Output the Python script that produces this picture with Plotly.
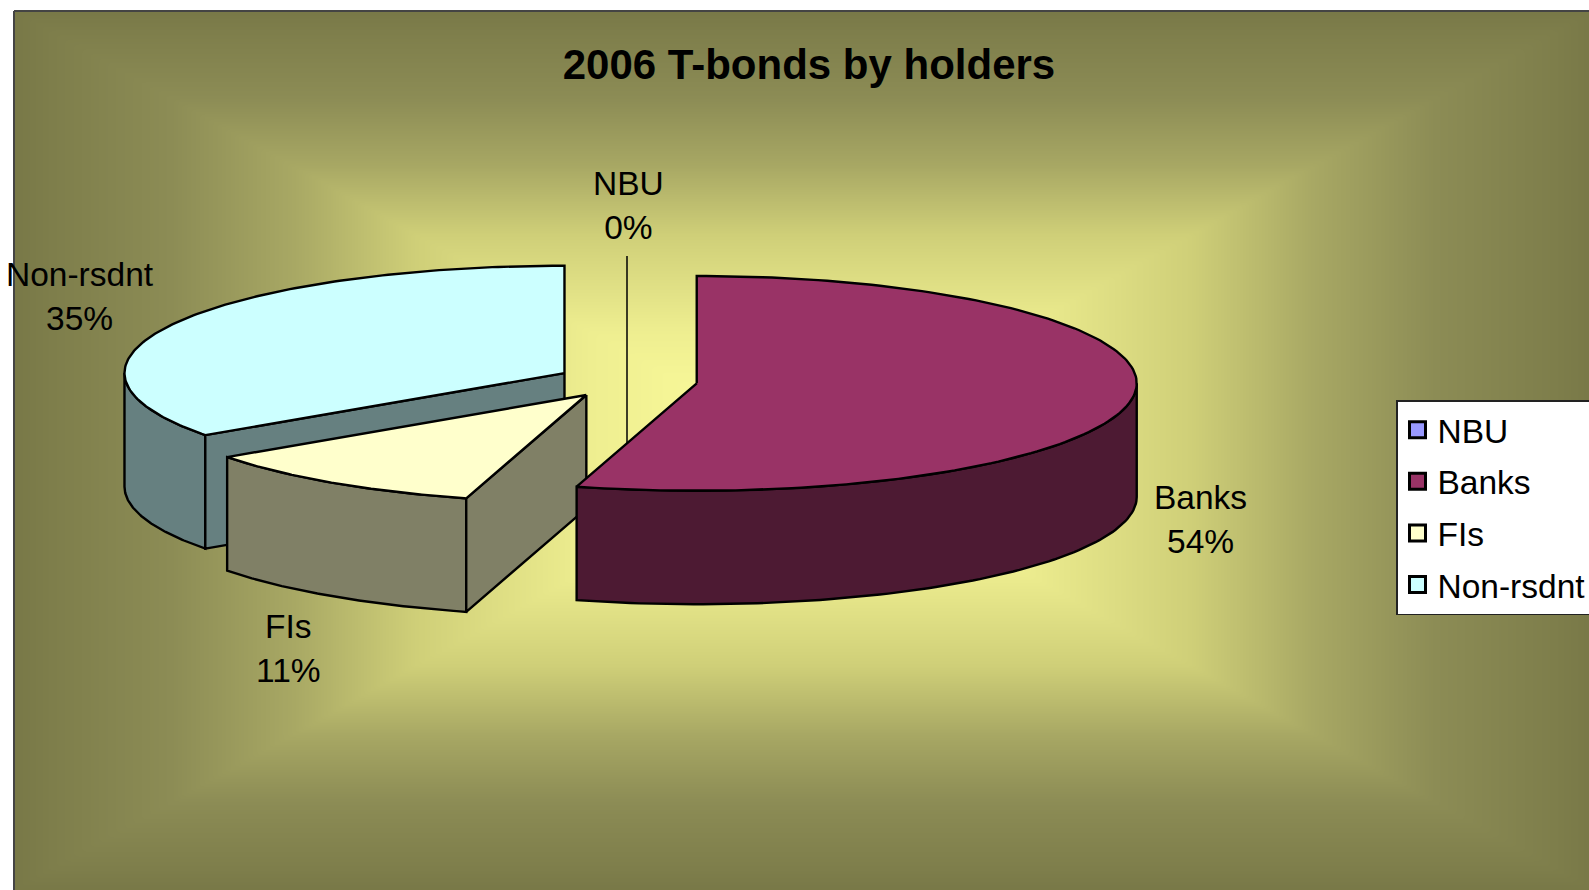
import numpy as np
import plotly.graph_objects as go

# --- chart data ---
categories = ["NBU", "Banks", "FIs", "Non-rsdnt"]
shares = [0, 54.4, 10.8, 34.8]
top_colors = ["#9999FF", "#993366", "#FFFFCC", "#CCFFFF"]
side_colors = ["#4D4D80", "#4D1A33", "#808066", "#668080"]
label_positions = [(628, 205), (1200, 519), (288, 648), (80, 296)]
title_text = "2006 T-bonds by holders"

# --- pie projection ---
CX, CY = 627, 381
RX, RY = 440, 107.4
DEPTH = 113.5
EXPLODE = 0.16
W, H = 1589, 890
FONT = "Liberation Sans, Arial, sans-serif"


def point(theta, ox, oy, dz=0.0):
    return ox + RX * np.sin(theta), oy - RY * np.cos(theta) + dz


def poly(name, xs, ys, color):
    return go.Scatter(
        x=list(xs) + [xs[0]], y=list(ys) + [ys[0]], mode="lines", fill="toself",
        fillcolor=color, line=dict(color="black", width=2.4), name=name,
        showlegend=False, hoverinfo="name",
    )


fractions = np.array(shares, dtype=float) / sum(shares)
ends = np.cumsum(fractions) * 2 * np.pi
starts = ends - fractions * 2 * np.pi

slices = {}
for i, name in enumerate(categories):
    a0, a1 = starts[i], ends[i]
    mid = (a0 + a1) / 2
    ox, oy = point(mid, CX, CY)
    ox = CX + (ox - CX) * EXPLODE
    oy = CY + (oy - CY) * EXPLODE
    parts = []
    lo, hi = max(a0, np.pi / 2), min(a1, 3 * np.pi / 2)
    if hi > lo:
        t = np.linspace(lo, hi, 90)
        x1, y1 = point(t, ox, oy)
        x2, y2 = point(t[::-1], ox, oy, DEPTH)
        parts.append(poly(name, np.r_[x1, x2], np.r_[y1, y2], side_colors[i]))
    if a1 > a0 and a0 > np.pi:
        ex, ey = point(a0, ox, oy)
        parts.append(poly(name, [ox, ex, ex, ox], [oy, ey, ey + DEPTH, oy + DEPTH], side_colors[i]))
    if a1 > a0:
        t = np.linspace(a0, a1, 160)
        x1, y1 = point(t, ox, oy)
        parts.append(poly(name, np.r_[ox, x1], np.r_[oy, y1], top_colors[i]))
    slices[name] = parts

# --- gradient background ---
ex_edges = np.linspace(14, W, 317)
ey_edges = np.linspace(11, H, 179)
gx = (ex_edges[:-1] + ex_edges[1:]) / 2
gy = (ey_edges[:-1] + ey_edges[1:]) / 2
XX, YY = np.meshgrid(gx, gy)
Z = np.maximum(np.abs(XX - 803) / 790, np.abs(YY - 450) / 440)
scale = [
    [0.0, "#fbfb9e"], [0.17, "#f5f596"], [0.27, "#eeee90"], [0.49, "#cfcf78"],
    [0.645, "#a8a864"], [0.8, "#8c8c55"], [0.95, "#7e7e4b"], [1.0, "#787847"],
]

fig = go.Figure()
fig.add_trace(go.Heatmap(x=gx, y=gy, z=Z, zmin=0, zmax=1, colorscale=scale, showscale=False,
                         zsmooth="best", hoverinfo="skip"))
for tr in slices["Non-rsdnt"]:
    fig.add_trace(tr)
fig.add_trace(go.Scatter(x=[CX, CX], y=[256, 444], mode="lines", line=dict(color="black", width=1.5),
                         showlegend=False, hoverinfo="skip"))
for tr in slices["FIs"] + slices["Banks"]:
    fig.add_trace(tr)

for i, name in enumerate(categories):
    fig.add_trace(go.Scatter(
        x=[None], y=[None], mode="markers", name=name, legendgroup=name,
        marker=dict(symbol="square", size=16, color=top_colors[i], line=dict(color="black", width=3)),
    ))
    lx, ly = label_positions[i]
    fig.add_annotation(x=lx, y=ly, text=f"{name}<br>{round(shares[i])}%", showarrow=False,
                       font=dict(family=FONT, size=33.5, color="black"), align="center")

fig.update_layout(
    width=W, height=H, margin=dict(l=0, r=0, t=0, b=0, autoexpand=False),
    paper_bgcolor="white", plot_bgcolor="white",
    xaxis=dict(range=[0, W], visible=False, fixedrange=True),
    yaxis=dict(range=[H, 0], visible=False, fixedrange=True),
    title=dict(text=f"<b>{title_text}</b>", x=809 / W, y=1 - 64.5 / H, xanchor="center", yanchor="middle",
               font=dict(family=FONT, size=42, color="black")),
    legend=dict(x=1396 / W, y=1 - 400 / H, xanchor="left", yanchor="top", bgcolor="white",
                bordercolor="#222", borderwidth=1.5, tracegroupgap=5,
                font=dict(family=FONT, size=33.5, color="black"), traceorder="grouped"),
    shapes=[
        dict(type="line", xref="x", yref="y", x0=14, y0=11, x1=W, y1=11, line=dict(color="#444", width=2), layer="above"),
        dict(type="line", xref="x", yref="y", x0=14, y0=11, x1=14, y1=H, line=dict(color="#444", width=2), layer="above"),
    ],
    hovermode="closest",
)
fig.write_html("out.html", config={"displayModeBar": False},
               post_script="document.body.style.margin='0';document.body.style.overflow='hidden';")
